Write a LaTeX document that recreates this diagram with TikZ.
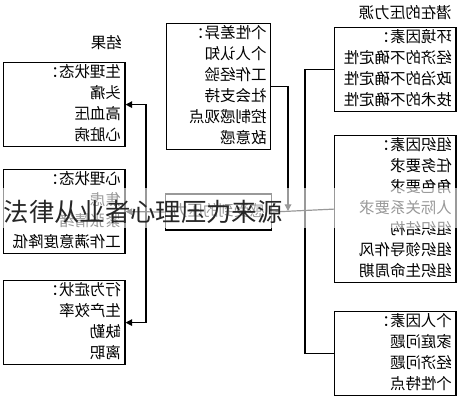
\documentclass[tikz,border=0pt]{standalone}
\usepackage{fontspec}
\usepackage{graphicx}
\setmainfont{Noto Sans CJK SC}
\usetikzlibrary{arrows.meta}

% mirrored block of lines
\newcommand{\mirtext}[1]{\reflectbox{\begin{tabular}{@{}l@{}}#1\end{tabular}}}

\begin{document}
\begin{tikzpicture}[x=0.75pt, y=-0.75pt, >={Triangle[length=5pt,width=5pt]}]
		\tikzstyle{box} = [draw, line width=0.9pt, inner xsep=3pt, inner ysep=0pt, align=right, anchor=north west, font=\fontsize{11.6}{15.75}\selectfont]
		\tikzstyle{link} = [line width=0.9pt]
		\tikzstyle{caption} = [inner sep=0pt, anchor=east, font=\fontsize{11.6}{14}\selectfont]

		\useasboundingbox (0,0) rectangle (463,400);

		% Left column: outcomes
		\node[caption] (resLabel) at (122,45) {\mirtext{结果}};
		\node[box, text width=85pt] (phys) at (3,62) {\mirtext{生理状态：\\头痛\\高血压\\心脏病}};
		\node[box, text width=85pt] (psych) at (3,169) {\mirtext{心理状态：\\焦虑\\紧张情绪\\工作满意度降低}};
		\node[box, text width=85pt] (behav) at (3,280) {\mirtext{行为症状：\\生产效率\\缺勤\\离职}};

		% Middle: individual differences and stress
		\node[box, text width=72pt] (indiv) at (166,23) {\mirtext{个性差异：\\个人认知\\工作经验\\社会支持\\控制感观点\\敌意感}};
		\node[box, anchor=center, align=center, minimum width=80pt, minimum height=27pt] (stress) at (218.5,212) {\mirtext{感受到的压力}};

		% Right column: potential stressors
		\node[caption] (srcLabel) at (452,15) {\mirtext{潜在的压力源}};
		\node[box, text width=85pt] (env) at (334,27) {\mirtext{环境因素：\\经济的不确定性\\政治的不确定性\\技术的不确定性}};
		\node[box, text width=85pt] (org) at (334,135) {\mirtext{组织因素：\\任务要求\\角色要求\\人际关系要求\\组织结构\\组织领导作风\\组织生命周期}};
		\node[box, text width=85pt] (pers) at (334,311) {\mirtext{个人因素：\\家庭问题\\经济问题\\个性特点}};

		% Connectors
		\coordinate (trunkL) at (146,212);
		\coordinate (trunkR) at (305,212);
		\coordinate (drop) at (288,211);
		\draw[link] (env.west) -| (trunkR) |- (pers.west);
		\draw[link] (stress.east) -- (org.west);
		\draw[link, ->] (indiv.east) -| (drop);
		\draw[link, ->] (stress.west) -- (psych.east);
		\draw[link, ->] (trunkL) |- (phys.east);
		\draw[link, ->] (trunkL) |- (behav.east);

		% Title band on top
		\fill[white, opacity=0.6] (0,188) rectangle (463,228);
		\node[inner sep=0pt, font=\fontsize{19}{22}\selectfont, text=black!85] (title) at (143,212) {法律从业者心理压力来源};

		\end{tikzpicture}
\end{document}
